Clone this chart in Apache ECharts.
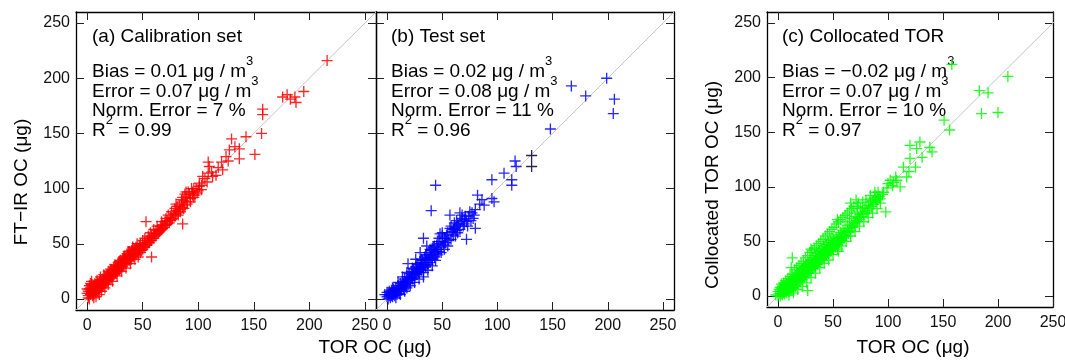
<!DOCTYPE html>
<html>
<head>
<meta charset="utf-8">
<script src="https://cdn.jsdelivr.net/npm/echarts@6/dist/echarts.min.js"></script>
<style>
  html, body { margin: 0; padding: 0; background: #fff; }
  #container { width: 1065px; height: 360px; }
</style>
</head>
<body>
<div id="container"></div>
<script>
// tick labels shared by every axis
const tickValues = [0, 50, 100, 150, 200, 250];
const oneToOne = [[-10, -10], [260, 260]];

// (a) calibration set: [TOR OC, FT-IR OC]
const calibration = [
  [1,3],[1,7],[2,5],[2,9],[2,12],[3,4],[3,7],[3,10],[4,6],[4,9],[4,13],[5,3],[5,7],[5,11],[6,5],[6,9],[6,12],
  [7,7],[7,10],[7,14],[8,6],[8,9],[8,13],[9,8],[9,11],[9,15],[10,7],[10,10],[10,14],[11,9],[11,13],[11,16],
  [12,10],[12,14],[12,17],[13,12],[13,15],[14,11],[14,14],[14,18],[15,13],[15,17],[16,15],[16,18],[16,21],
  [17,14],[17,17],[17,20],[18,16],[18,19],[18,22],[19,17],[19,21],[20,18],[20,21],[20,24],[21,20],[21,23],
  [22,19],[22,22],[22,26],[23,21],[23,25],[24,22],[24,26],[24,29],[25,24],[25,27],[26,23],[26,27],[26,30],
  [27,25],[27,29],[28,27],[28,30],[28,33],[29,26],[29,30],[30,28],[30,32],[30,35],[31,30],[31,33],[32,29],
  [32,33],[32,36],[33,31],[33,35],[34,33],[34,36],[34,39],[35,32],[35,36],[36,34],[36,38],[36,41],[37,36],
  [37,40],[38,35],[38,39],[38,43],[39,37],[39,41],[40,36],[40,40],[40,44],[41,39],[41,43],[42,38],[42,42],
  [42,46],[43,41],[43,45],[44,40],[44,44],[44,47],[45,43],[45,46],[46,42],[46,45],[47,44],[47,48],[48,46],
  [0,5],[0,9],[1,1],[2,0],[3,14],[4,16],[6,1],[8,2],[9,17],[11,4],[12,20],[13,7],[15,22],[16,10],[19,13],
  [19,25],[21,27],[23,16],[25,31],[27,21],[29,34],[31,25],[33,38],[35,28],[37,43],[39,32],[41,47],[43,36],
  [45,50],[46,38],[48,50],[48,42],[50,45],[50,53],[52,47],[52,55],[54,49],[55,57],[56,51],[57,60],[58,53],
  [60,55],[60,63],[62,58],[63,66],[64,60],[66,62],[67,70],[68,64],[70,67],[71,73],[72,68],[73,76],[75,71],
  [76,79],[77,73],[79,82],[80,77],[81,84],[82,76],[84,79],[85,90],[87,82],[88,95],[90,86],[91,97],[93,88],
  [94,100],[96,92],[99,96],[101,102],[103,99],
  [49,44],[50,49],[51,47],[52,51],[53,49],[54,53],[55,51],[56,55],[57,53],[58,57],[59,55],[60,59],[61,57],
  [62,62],[63,59],[64,63],[65,61],[66,66],[67,63],[68,67],[69,65],[70,70],[71,67],[72,71],[74,69],[75,74],
  [76,72],[78,77],[79,75],[80,80],[82,78],[83,84],[84,81],[85,87],[86,83],[87,89],[88,85],[89,92],[90,88],
  [92,95],[93,91],[95,97],[97,94],[98,100],[100,98],
  [53,70],[58,38],[86,68],[80,86],[101,105],[96,100],[89,97],[86,92],[95,94],[104,111],[113,111],[116,112],
  [122,117],[109,124],[110,120],[112,115],[109,114],[121,124],[125,129],[128,135],[130,145],[137,136],
  [137,127],[143,147],[151,131],[157,150],[158,172],[158,167],[176,183],[180,185],[187,183],[188,178],
  [195,188],[183,181],[216,216],[106,109],[118,119],[127,125],[133,138],[103,103],[108,106]
];

// (b) test set
const testSet = [
  [-2,4],[0,2],[0,6],[1,0],[1,4],[2,3],[2,7],[3,1],[3,5],[4,3],[4,8],[5,2],[5,6],[6,4],[6,9],[7,3],[7,7],
  [8,6],[8,10],[9,4],[9,8],[10,7],[10,12],[11,5],[11,10],[12,9],[12,14],[13,8],[13,12],[14,11],[14,16],
  [15,9],[15,14],[16,13],[16,18],[17,11],[17,16],[18,10],[18,15],[18,20],[19,17],[20,14],[20,19],[20,23],
  [21,17],[22,20],[22,25],[23,18],[23,22],[24,21],[24,27],[25,19],[25,24],[26,23],[26,29],[27,22],[27,27],
  [28,25],[28,31],[29,24],[29,29],[30,27],[30,33],[31,26],[31,31],[32,29],[32,35],[33,20],[33,28],[33,33],
  [34,31],[34,38],[35,29],[35,35],[36,33],[36,40],[37,31],[37,37],[38,35],[38,42],[39,33],[39,39],[40,37],
  [40,44],[41,36],[42,40],[42,47],[43,38],[44,43],[45,41],[45,49],[46,45],[47,43],[48,50],[49,47],[50,52],
  [51,49],[52,55],[53,51],
  [5,10],[8,1],[10,15],[12,4],[14,20],[16,7],[18,24],[21,12],[23,28],[25,15],[27,32],[29,18],[31,36],
  [33,24],[35,40],[37,26],[39,45],[41,30],[43,48],[44,35],[46,40],[47,55],[49,42],[50,60],[52,45],[54,58],
  [55,48],[58,54],[59,61],[61,64],[62,57],[64,68],[66,63],[68,76],[70,68],[71,75],[73,66],[76,71],[79,76],
  [36,48],[30,42],[26,36],
  [19,32],[33,55],[41,46],[40,80],[44,103],[48,59],[53,55],[57,64],[57,76],[63,71],[63,62],[66,78],[68,73],
  [72,54],[75,79],[80,81],[80,64],[82,94],[88,85],[95,108],[95,91],[97,88],[106,114],[113,108],[113,103],
  [116,125],[117,120],[148,154],[167,193],[180,184],[199,200],[206,181],[205,168],
  [55,60],[58,66],[60,63],[61,69],[65,67],[67,70],[70,72],[72,70],[74,75],[77,78],[78,73],[84,86],[86,90],
  [60,58],[56,53],[62,65],[64,60],[69,66],[50,57],[46,52]
];
const testSetDark = [[131,130],[131,120]];

// (c) collocated TOR
const collocated = [
  [-2,1],[0,0],[0,4],[1,2],[1,6],[2,0],[2,4],[3,2],[3,7],[4,1],[4,5],[4,9],[5,3],[5,7],[6,2],[6,6],[6,10],
  [7,4],[7,8],[8,3],[8,7],[8,12],[9,5],[9,10],[10,4],[10,8],[10,13],[11,7],[11,11],[12,5],[12,10],[12,15],
  [13,8],[13,13],[13,35],[12,26],[14,7],[14,12],[14,17],[15,10],[15,15],[16,9],[16,14],[16,19],[17,12],
  [17,17],[18,11],[18,16],[18,21],[19,14],[19,19],[20,13],[20,18],[20,23],[21,16],[21,21],[22,15],[22,20],
  [22,25],[23,18],[23,23],[24,17],[24,22],[24,27],[25,20],[25,25],[26,19],[26,24],[26,29],[27,5],[27,22],
  [27,27],[28,21],[28,26],[28,31],[29,24],[29,29],[30,23],[30,28],[30,33],[31,26],[31,31],[32,25],[32,30],
  [32,35],[33,28],[33,33],[34,27],[34,32],[34,37],[35,30],[35,35],[36,29],[36,34],[36,39],[37,32],[37,37],
  [38,31],[38,36],[38,41],[39,34],[39,39],[40,33],[40,38],[40,43],[41,36],[41,41],[42,35],[42,40],[42,45],
  [43,38],[43,43],[44,37],[44,42],[44,47],[45,40],[45,45],[46,39],[46,44],[46,49],[47,42],[47,47],[48,41],
  [48,46],[48,51],[49,44],[49,49],[50,43],[50,48],[50,53],[51,46],[51,51],[52,45],[52,50],[53,48],[53,54],
  [54,47],[54,52],[55,41],[55,50],[55,56],[56,49],[56,54],[57,52],[57,58],[58,51],[58,56],[59,54],[59,60],
  [60,53],[60,58],[61,56],[61,62],[62,55],[63,59],[63,65],[64,58],[65,62],[65,68],[66,60],[67,65],[67,71],
  [68,63],[69,67],[70,66],[70,73],[71,69],[72,68],[72,76],[73,72],[74,70],[75,75],[75,80],[76,73],[77,77],
  [78,75],[79,81],[80,78],[81,76],[82,83],[83,80],[84,86],[85,82],[86,87],[87,84],[88,90],[89,86],[90,88],
  [91,91],[93,89],[95,93],
  [2,8],[3,11],[5,12],[7,14],[9,16],[11,18],[13,20],[15,24],[17,26],[19,28],[21,30],[23,32],[25,35],[27,37],
  [29,40],[31,42],[33,44],[35,46],[37,48],[39,50],[41,52],[43,55],[45,57],[47,59],[49,61],[51,63],[53,66],
  [55,68],[57,70],[59,72],[61,74],[63,76],[65,78],[67,80],[69,82],[73,85],[77,86],[80,88],[84,92],[88,95],
  [91,95],[10,1],[14,3],[18,6],[22,9],[26,12],[30,17],[34,21],[38,26],[42,30],[46,33],[50,38],[54,43],
  [58,46],[62,50],[66,55],[70,59],[74,64],[78,68],[82,72],[86,76],[90,80],
  [30,43],[54,70],[66,85],[72,82],[93,85],[98,77],[89,92],[92,91],[84,89],[71,88],
  [99,99],[102,106],[104,101],[107,109],[111,100],[114,118],[117,109],[119,114],[120,126],[125,118],
  [120,138],[126,135],[129,141],[131,127],[138,136],[140,132],[151,161],[156,152],[158,212],[183,188],
  [191,186],[185,167],[200,168],[209,201],[105,104],[108,106],[100,103],[96,95]
];

const FONT = "Liberation Sans";
const plus = "path://M4.4,0H5.6V4.4H10V5.6H5.6V10H4.4V5.6H0V4.4H4.4Z";

function xAxes(gi, max) {
  const common = {
    type: "value", gridIndex: gi, min: -10, max: max,
    axisLine: { onZero: false, lineStyle: { color: "#000", width: 1.3 } },
    axisTick: { inside: true, length: 8, customValues: tickValues, lineStyle: { color: "#222" } },
    splitLine: { show: false },
  };
  return [
    { ...common, position: "bottom",
      axisLabel: { customValues: tickValues, fontFamily: FONT, fontSize: 16, color: "#111", margin: 8 } },
    { ...common, position: "top", axisLabel: { show: false } },
  ];
}

function yAxes(gi, showLabels) {
  const common = {
    type: "value", gridIndex: gi, min: -10, max: 260,
    axisLine: { onZero: false, lineStyle: { color: "#000", width: 1.3 } },
    axisTick: { inside: true, length: 8, customValues: tickValues, lineStyle: { color: "#222" } },
    splitLine: { show: false },
  };
  return [
    { ...common, position: "left",
      axisLabel: { show: showLabels, customValues: tickValues, fontFamily: FONT, fontSize: 16, color: "#111", margin: 6 } },
    { ...common, position: "right", axisLabel: { show: false } },
  ];
}

function diag(gi) {
  return {
    type: "line", xAxisIndex: gi * 2, yAxisIndex: gi * 2, data: oneToOne,
    symbol: "none", silent: true, z: 1,
    lineStyle: { color: "#c4c4c4", width: 1 },
  };
}

function pts(gi, data, color) {
  return {
    type: "scatter", xAxisIndex: gi * 2, yAxisIndex: gi * 2, data: data,
    symbol: plus, symbolSize: 11, z: 2,
    itemStyle: { color: color, opacity: 0.85 },
  };
}

const rich = {
  n: { fontFamily: FONT, fontSize: 19, lineHeight: 26, color: "#000", verticalAlign: "bottom" },
  s: { fontFamily: FONT, fontSize: 13, lineHeight: 13, color: "#000", verticalAlign: "top" },
};

function stats(x, title, bias, err, norm, r2) {
  const lines = [
    { y: 33, text: "{n|" + title + "}" },
    { y: 68, text: "{n|Bias = " + bias + " μg / m}{s|3}" },
    { y: 88, text: "{n|Error = " + err + " μg / m}{s|3}" },
    { y: 107, text: "{n|Norm. Error = " + norm + " %}" },
    { y: 127, text: "{n|R}{s|2}{n| = " + r2 + "}" },
  ];
  return lines.map((l) => ({
    type: "text", x: x, y: l.y, silent: true,
    style: { text: l.text, rich: rich, verticalAlign: "middle" },
  }));
}

function label(x, y, text, rotate) {
  return {
    type: "text", x: x, y: y, rotation: rotate ? Math.PI / 2 : 0, silent: true,
    style: {
      text: text, fontFamily: FONT, fontSize: 19, fill: "#000",
      align: "center", verticalAlign: "middle",
    },
  };
}

const option = {
  animation: false,
  backgroundColor: "#fff",
  grid: [
    { left: 76, top: 12, width: 300, height: 298, outerBoundsMode: "none" },
    { left: 376, top: 12, width: 298, height: 298, outerBoundsMode: "none" },
    { left: 767, top: 12, width: 286, height: 295, outerBoundsMode: "none" },
  ],
  xAxis: [...xAxes(0, 260), ...xAxes(1, 260), ...xAxes(2, 250)],
  yAxis: [...yAxes(0, true), ...yAxes(1, false), ...yAxes(2, true)],
  series: [
    diag(0), pts(0, calibration, "#ff0000"),
    diag(1), pts(1, testSet, "#0000ff"), pts(1, testSetDark, "#000033"),
    diag(2), pts(2, collocated, "#00ff00"),
  ],
  graphic: [
    ...stats(92, "(a) Calibration set", "0.01", "0.07", "7", "0.99"),
    ...stats(391, "(b) Test set", "0.02", "0.08", "11", "0.96"),
    ...stats(782, "(c) Collocated TOR", "\u22120.02", "0.07", "10", "0.97"),
    label(22, 182, "FT\u2212IR OC (μg)", true),
    label(713, 185, "Collocated TOR OC (μg)", true),
    label(375, 348, "TOR OC (μg)", false),
    label(913, 348, "TOR OC (μg)", false),
  ],
};

const container = document.getElementById("container");
const myChart = echarts.init(container, null, { renderer: "canvas" });
myChart.setOption(option);
</script>
</body>
</html>
